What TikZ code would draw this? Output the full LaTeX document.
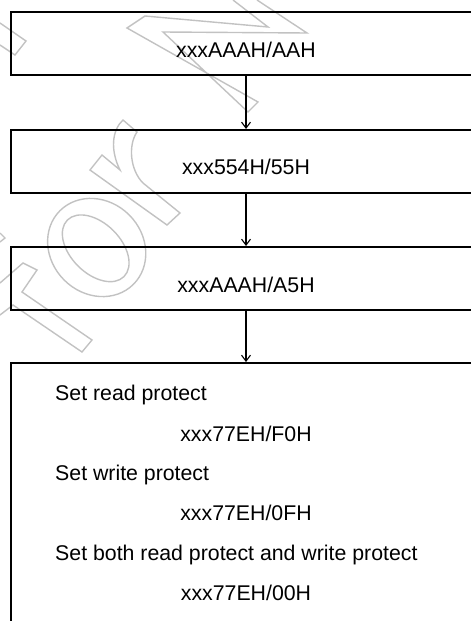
\documentclass[tikz,border=0pt]{standalone}
\usepackage{fontspec}
\setmainfont{Liberation Sans}
\usetikzlibrary{arrows.meta}
\begin{document}
\begin{tikzpicture}[x=1pt,y=-1pt,
  box/.style={draw=black, line width=2pt, rectangle, minimum width=470pt, inner sep=0pt},
  lbl/.style={anchor=base, inner sep=0pt, font=\fontsize{21.3}{25}\selectfont},
  lbll/.style={anchor=base west, inner sep=0pt, font=\fontsize{21.3}{25}\selectfont},
  arr/.style={draw=black, line width=1.3pt, -{Straight Barb[length=6pt,width=9pt,line width=1.1pt]}},
  wm/.style={draw=black!24, line width=1.4pt, line join=miter}]
\useasboundingbox (0,0) rectangle (471,621);
\clip (0,0) rectangle (471,621);
% watermark
\draw[wm] (0,23) -- (26,41) -- (15,55) -- (0,45);
\draw[wm] (233,0) -- (268,27) -- (145,16) -- (127,28) -- (258,102) -- (248,112) -- (163,32) -- (307,33) -- (257,0);
\draw[wm] (90,170) -- (102,155) -- (120,170) .. controls (110,150) and (112,130) .. (123,120)
  -- (137,132) .. controls (128,145) and (130,170) .. (143,183) -- (180,213) -- (167,225) -- cycle;
\draw[wm, rotate around={-45:(96.7,247.5)}] (96.7,247.5) ellipse [x radius=52, y radius=46];
\draw[wm, rotate around={-45:(95.7,248.3)}] (95.7,248.3) ellipse [x radius=40, y radius=25];
\draw[wm] (0,233) -- (5,238) -- (0,242);
\draw[wm] (0,283) -- (23,263) -- (37,270) -- (22,292) -- (92,340) -- (82,352) -- (13,305) -- (0,315);
% boxes
\node[box, minimum height=63pt] (b1) at (246,43.5) {};
\node[box, minimum height=63pt] (b2) at (246,161.5) {};
\node[box, minimum height=63pt] (b3) at (246,278.5) {};
\node[box, minimum height=337pt] (b4) at (246,531.5) {};
% labels
\node[lbl] (t1) at (246,57) {xxxAAAH/AAH};
\node[lbl] (t2) at (246,174) {xxx554H/55H};
\node[lbl] (t3) at (246,292) {xxxAAAH/A5H};
\node[lbll] (s1) at (55,400) {Set read protect};
\node[lbl] (c1) at (246,441) {xxx77EH/F0H};
\node[lbll] (s2) at (55,480) {Set write protect};
\node[lbl] (c2) at (246,520) {xxx77EH/0FH};
\node[lbll] (s3) at (55,560) {Set both read protect and write protect};
\node[lbl] (c3) at (246,600) {xxx77EH/00H};
% arrows
\draw[arr] (b1.south) -- (b2.north);
\draw[arr] (b2.south) -- (b3.north);
\draw[arr] (b3.south) -- (b4.north);
\end{tikzpicture}
\end{document}
